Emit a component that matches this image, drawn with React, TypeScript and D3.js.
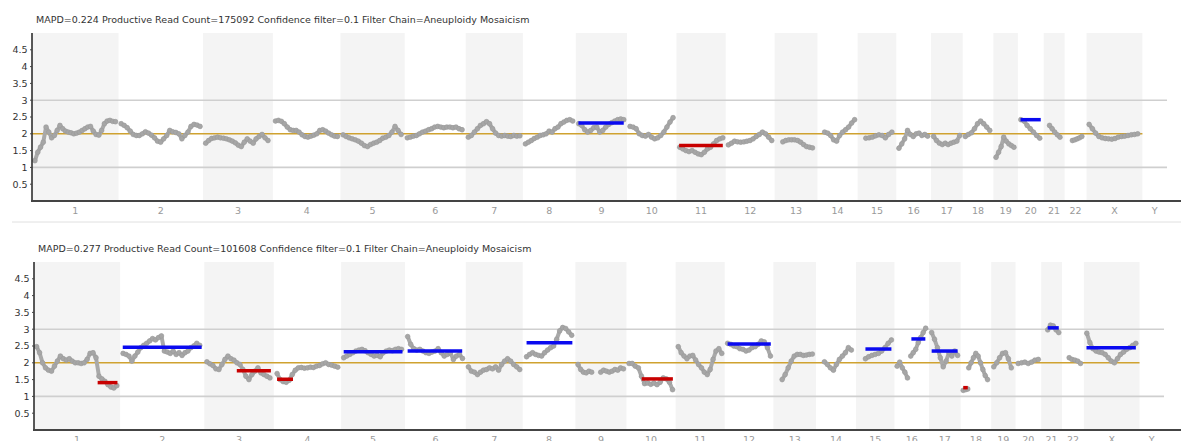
import React from "react";
import * as d3 from "d3";

const CHROMOSOMES = ["1", "2", "3", "4", "5", "6", "7", "8", "9", "10", "11", "12", "13", "14", "15", "16", "17", "18", "19", "20", "21", "22", "X", "Y"];
const CHROMOSOME_LENGTHS_MB = [249.3, 243.2, 198.0, 191.2, 180.9, 171.1, 159.1, 146.4, 141.2, 135.5, 135.0, 133.9, 115.2, 107.3, 102.5, 90.4, 81.2, 78.1, 59.1, 63.0, 48.1, 51.3, 155.3, 59.4];
const CHROMOSOME_PAD_MB = 16;
const Y_TICKS = [0.5, 1, 1.5, 2, 2.5, 3, 3.5, 4, 4.5];
const Y_DOMAIN = [0, 5];
const NORMAL_COPY_NUMBER = 2;
const GUIDE_LINES = [1, 3];

type Segment = [string, number, number, number[]];
type Call = [string, number, number, number, "gain" | "loss"];

const SAMPLE_1_TITLE = "MAPD=0.224 Productive Read Count=175092 Confidence filter=0.1 Filter Chain=Aneuploidy Mosaicism";
const SAMPLE_1_SEGMENTS: Segment[] = [
  ["1", 1, 248, [1.2, 1.45, 1.6, 1.75, 2.2, 2.05, 1.88, 1.95, 2.1, 2.25, 2.15, 2.08, 2.05, 2.03, 2.0, 2.02, 2.05, 2.1, 2.15, 2.2, 2.22, 2.08, 1.98, 1.96, 2.1, 2.3, 2.38, 2.4, 2.37, 2.36]],
  ["2", 0, 242, [2.3, 2.25, 2.18, 2.08, 1.98, 1.95, 1.95, 2.0, 2.06, 2.02, 1.96, 1.88, 1.78, 1.75, 1.85, 1.95, 2.1, 2.06, 2.04, 2.0, 1.85, 1.95, 2.05, 2.22, 2.28, 2.26, 2.22]],
  ["3", 0, 191, [1.72, 1.8, 1.86, 1.88, 1.9, 1.88, 1.87, 1.85, 1.82, 1.78, 1.73, 1.66, 1.62, 1.75, 1.85, 1.78, 1.72, 1.85, 1.92, 1.98, 1.88, 1.8]],
  ["4", 0, 190, [2.38, 2.4, 2.37, 2.3, 2.2, 2.12, 2.1, 2.1, 2.05, 1.97, 1.92, 1.9, 1.93, 1.96, 2.0, 2.1, 2.12, 2.08, 2.02, 1.97, 1.93, 1.92]],
  ["5", 0, 178, [1.97, 1.92, 1.88, 1.85, 1.82, 1.78, 1.72, 1.65, 1.62, 1.68, 1.72, 1.75, 1.8, 1.87, 1.9, 1.95, 2.05, 2.22, 2.1, 1.98]],
  ["6", 0, 168, [1.88, 1.9, 1.93, 1.95, 2.0, 2.05, 2.08, 2.12, 2.15, 2.2, 2.22, 2.2, 2.18, 2.2, 2.2, 2.18, 2.2, 2.15, 2.12]],
  ["7", 0, 158, [1.9, 1.95, 2.05, 2.15, 2.25, 2.3, 2.36, 2.3, 2.15, 2.02, 1.95, 1.93, 1.95, 1.93, 1.92, 1.95, 1.93, 1.94]],
  ["8", 0, 145, [1.7, 1.75, 1.8, 1.86, 1.9, 1.95, 1.97, 2.0, 2.08, 2.05, 2.15, 2.2, 2.3, 2.35, 2.4, 2.42, 2.38]],
  ["9", 1, 139, [2.3, 2.25, 2.12, 2.05, 2.1, 2.18, 2.2, 2.05, 2.1, 2.2, 2.28, 2.33, 2.38, 2.42, 2.44, 2.42]],
  ["10", 1, 133, [2.22, 2.2, 2.15, 2.0, 1.95, 1.93, 1.98, 1.9, 1.85, 1.88, 1.95, 2.05, 2.2, 2.35, 2.48]],
  ["11", 2, 134, [1.6, 1.55, 1.5, 1.47, 1.5, 1.45, 1.4, 1.38, 1.45, 1.55, 1.6, 1.7, 1.8, 1.85, 1.88]],
  ["12", 0, 133, [1.67, 1.72, 1.78, 1.76, 1.75, 1.76, 1.78, 1.8, 1.85, 1.92, 1.98, 2.05, 2.0, 1.9, 1.8]],
  ["13", 17, 108, [1.76, 1.8, 1.82, 1.82, 1.82, 1.8, 1.75, 1.68, 1.62, 1.6, 1.58]],
  ["14", 14, 106, [2.05, 2.02, 1.95, 1.82, 1.78, 1.95, 2.05, 2.12, 2.2, 2.32, 2.42]],
  ["15", 17, 97, [1.87, 1.88, 1.9, 1.94, 1.97, 1.95, 1.88, 1.98, 2.05]],
  ["16", 0, 88, [1.57, 1.7, 1.85, 2.1, 1.98, 1.92, 2.0, 2.02, 1.95, 1.98, 1.93]],
  ["17", 0, 80, [1.92, 1.8, 1.72, 1.68, 1.72, 1.68, 1.72, 1.75, 1.78, 1.95]],
  ["18", 0, 75, [1.92, 1.98, 2.03, 2.15, 2.3, 2.38, 2.3, 2.2, 2.1]],
  ["19", 0, 55, [1.3, 1.45, 1.62, 1.9, 1.78, 1.7, 1.65, 1.6]],
  ["20", 1, 59, [2.42, 2.38, 2.25, 2.15, 2.05, 1.95, 1.87]],
  ["21", 10, 42, [2.25, 2.15, 2.05, 1.97, 1.9]],
  ["22", 16, 45, [1.8, 1.82, 1.85, 1.88, 1.92]],
  ["X", 0, 149, [2.28, 2.15, 2.02, 1.92, 1.88, 1.86, 1.85, 1.84, 1.86, 1.9, 1.92, 1.93, 1.95, 1.97, 1.98, 2.0]],
];
const SAMPLE_1_CALLS: Call[] = [
  ["9", 0, 139, 2.32, "gain"],
  ["11", 0, 134, 1.65, "loss"],
  ["20", 0, 62, 2.42, "gain"],
];

const SAMPLE_2_TITLE = "MAPD=0.277 Productive Read Count=101608 Confidence filter=0.1 Filter Chain=Aneuploidy Mosaicism";
const SAMPLE_2_SEGMENTS: Segment[] = [
  ["1", 0, 247, [2.48, 2.3, 2.0, 1.85, 1.78, 1.75, 1.9, 2.05, 2.2, 2.12, 2.08, 2.12, 2.05, 2.0, 2.0, 1.98, 2.0, 2.1, 2.28, 2.3, 2.15, 1.6, 1.52, 1.45, 1.35, 1.28, 1.25, 1.32]],
  ["2", 1, 237, [2.28, 2.25, 2.2, 2.05, 2.2, 2.32, 2.45, 2.52, 2.58, 2.65, 2.72, 2.68, 2.75, 2.8, 2.35, 2.32, 2.28, 2.35, 2.25, 2.3, 2.22, 2.3, 2.35, 2.45, 2.5, 2.58, 2.52]],
  ["3", 0, 194, [2.03, 1.97, 1.92, 1.82, 1.8, 1.95, 2.1, 2.2, 2.12, 2.08, 2.0, 1.95, 1.8, 1.6, 1.5, 1.65, 1.75, 1.85, 1.7, 1.65, 1.6, 1.55]],
  ["4", 2, 189, [1.68, 1.5, 1.44, 1.42, 1.48, 1.65, 1.78, 1.85, 1.86, 1.84, 1.85, 1.87, 1.86, 1.9, 1.92, 1.97, 2.0, 1.95, 1.93, 1.9, 1.87]],
  ["5", 0, 178, [2.15, 2.2, 2.25, 2.3, 2.35, 2.38, 2.4, 2.36, 2.3, 2.25, 2.2, 2.22, 2.18, 2.3, 2.35, 2.38, 2.36, 2.4, 2.42, 2.4]],
  ["6", 0, 169, [2.78, 2.55, 2.42, 2.38, 2.4, 2.35, 2.3, 2.28, 2.32, 2.35, 2.42, 2.3, 2.2, 2.25, 2.3, 2.1, 2.2, 2.25, 2.13]],
  ["7", 0, 158, [1.88, 1.75, 1.72, 1.65, 1.72, 1.78, 1.8, 1.85, 1.82, 1.88, 1.78, 1.95, 2.05, 2.12, 2.05, 1.95, 1.88, 1.8]],
  ["8", 4, 143, [2.18, 2.25, 2.3, 2.25, 2.22, 2.2, 2.3, 2.38, 2.45, 2.5, 2.7, 2.95, 3.05, 3.02, 2.92, 2.82]],
  ["9", 0, 42, [1.95, 1.8, 1.72, 1.7, 1.75, 1.72]],
  ["9", 70, 140, [1.72, 1.78, 1.75, 1.72, 1.75, 1.8, 1.78, 1.85, 1.82]],
  ["10", 0, 134, [1.98, 1.98, 1.9, 1.85, 1.6, 1.38, 1.4, 1.36, 1.4, 1.35, 1.42, 1.55, 1.52, 1.42, 1.2]],
  ["11", 0, 134, [2.48, 2.3, 2.2, 2.12, 2.2, 2.22, 2.08, 1.95, 1.85, 1.72, 1.65, 1.8, 2.1, 2.35, 2.42, 2.28]],
  ["12", 1, 133, [2.58, 2.55, 2.5, 2.48, 2.42, 2.4, 2.35, 2.38, 2.45, 2.48, 2.55, 2.65, 2.62, 2.45, 2.2]],
  ["13", 19, 112, [1.5, 1.65, 1.85, 2.05, 2.2, 2.25, 2.25, 2.22, 2.23, 2.25, 2.26]],
  ["14", 18, 101, [2.03, 1.95, 1.85, 1.78, 1.95, 2.1, 2.2, 2.3, 2.45, 2.38]],
  ["15", 21, 101, [2.12, 2.18, 2.22, 2.25, 2.28, 2.35, 2.45, 2.58, 2.68]],
  ["16", 0, 32, [1.9, 2.02, 1.85, 1.72, 1.55]],
  ["16", 42, 88, [2.2, 2.3, 2.4, 2.6, 2.75, 2.9, 3.03]],
  ["17", 0, 80, [2.9, 2.7, 2.45, 2.15, 1.88, 2.05, 2.3, 2.2, 2.35, 2.22]],
  ["18", 0, 14, [1.18, 1.2, 1.22]],
  ["18", 17, 75, [1.85, 2.0, 2.15, 2.28, 2.2, 2.0, 1.8, 1.62, 1.5]],
  ["19", 0, 54, [1.88, 2.0, 2.15, 2.28, 2.3, 2.12, 1.85]],
  ["20", 0, 62, [1.98, 2.0, 2.02, 1.98, 2.02, 2.08, 2.1]],
  ["21", 12, 46, [2.98, 3.12, 3.1, 2.98, 2.9]],
  ["22", 14, 49, [2.15, 2.1, 2.08, 2.05, 1.98]],
  ["X", 1, 152, [2.88, 2.6, 2.42, 2.35, 2.32, 2.3, 2.25, 2.15, 2.05, 2.0, 2.12, 2.25, 2.32, 2.4, 2.45, 2.52, 2.58]],
];
const SAMPLE_2_CALLS: Call[] = [
  ["1", 188, 249, 1.41, "loss"],
  ["2", 0, 243, 2.46, "gain"],
  ["3", 92, 197, 1.76, "loss"],
  ["4", 2, 51, 1.51, "loss"],
  ["5", 0, 181, 2.33, "gain"],
  ["6", 0, 168, 2.35, "gain"],
  ["8", 4, 145, 2.6, "gain"],
  ["10", 39, 135, 1.52, "loss"],
  ["12", 1, 134, 2.56, "gain"],
  ["15", 21, 101, 2.41, "gain"],
  ["16", 44, 87, 2.71, "gain"],
  ["17", 0, 80, 2.35, "gain"],
  ["18", 0, 14, 1.26, "loss"],
  ["21", 12, 46, 3.04, "gain"],
  ["X", 0, 152, 2.45, "gain"],
];

const WIDTH = 1181;
const HEIGHT = 441;
const FONT = "'DejaVu Sans', Verdana, sans-serif";

interface PanelProps {
  title: string;
  segments: Segment[];
  calls: Call[];
  left: number;
  right: number;
  top: number;
  bottom: number;
  titleX: number;
  titleY: number;
}

function Panel({ title, segments, calls, left, right, top, bottom, titleX, titleY }: PanelProps) {
  const spans = CHROMOSOME_LENGTHS_MB.map((l) => l + CHROMOSOME_PAD_MB);
  const starts = spans.map((_, i) => d3.sum(spans.slice(0, i)));
  const total = d3.sum(spans);
  const x = d3.scaleLinear().domain([0, total]).range([left, right]);
  const y = d3.scaleLinear().domain(Y_DOMAIN).range([bottom, top]);
  const idx = (c: string) => CHROMOSOMES.indexOf(c);
  const gx = (c: string, mb: number) => x(starts[idx(c)] + CHROMOSOME_PAD_MB / 2 + mb);
  const line = d3.line<[number, number]>().x((d) => d[0]).y((d) => d[1]);
  const xEnd = x(starts[idx("X")] + spans[idx("X")]);

  return (
    <g>
      <text x={titleX} y={titleY} fontSize={9.5} fill="#333" fontFamily={FONT}>{title}</text>
      {CHROMOSOMES.map((c, i) =>
        i % 2 === 0 ? (
          <rect key={"b" + c} x={x(starts[i])} y={top} width={x(starts[i] + spans[i]) - x(starts[i])} height={bottom - top} fill="#f4f4f4" />
        ) : null
      )}
      {GUIDE_LINES.map((g) => (
        <line key={"g" + g} x1={left} x2={right} y1={y(g)} y2={y(g)} stroke="#cfcfcf" strokeWidth={1.6} />
      ))}
      <line x1={left} x2={xEnd} y1={y(NORMAL_COPY_NUMBER)} y2={y(NORMAL_COPY_NUMBER)} stroke="#cfa230" strokeWidth={1.5} />
      {segments.map(([c, s, e, vals], k) => {
        const pts: [number, number][] = vals.map((v, i) => [gx(c, s + ((e - s) * i) / (vals.length - 1)), y(v)]);
        return (
          <g key={"s" + k}>
            <path d={line(pts) || ""} fill="none" stroke="#a9a9a9" strokeWidth={4} strokeLinecap="round" strokeLinejoin="round" />
            {pts.map((p, i) => (
              <circle key={i} cx={p[0]} cy={p[1]} r={2.4} fill="#a6a6a6" stroke="#9a9a9a" strokeWidth={0.6} />
            ))}
          </g>
        );
      })}
      {calls.map(([c, s, e, v, type], k) => (
        <line key={"c" + k} x1={gx(c, s)} x2={gx(c, e)} y1={y(v)} y2={y(v)} stroke={type === "gain" ? "#0a0af0" : "#c80000"} strokeWidth={3.5} />
      ))}
      <line x1={left} x2={left} y1={top} y2={bottom} stroke="#222" strokeWidth={1.5} />
      {Y_TICKS.map((t) => (
        <g key={"t" + t}>
          <line x1={left - 2} x2={left} y1={y(t)} y2={y(t)} stroke="#444" strokeWidth={1} />
          <text x={left - 4.5} y={y(t)} dy="0.35em" textAnchor="end" fontSize={9.5} fill="#333" fontFamily={FONT}>{t}</text>
        </g>
      ))}
      <line x1={left - 1} x2={WIDTH} y1={bottom} y2={bottom} stroke="#444" strokeWidth={2} />
      {CHROMOSOMES.map((c, i) => (
        <text key={"x" + c} x={x(starts[i] + spans[i] / 2)} y={bottom + 13} textAnchor="middle" fontSize={9.5} fill="#999" fontFamily={FONT}>{c}</text>
      ))}
    </g>
  );
}

export default function App() {
  return (
    <svg width={WIDTH} height={HEIGHT} style={{ position: "absolute", left: 0, top: 0, background: "#fff" }}>
      <rect x={0} y={0} width={WIDTH} height={HEIGHT} fill="#fff" />
      <Panel title={SAMPLE_1_TITLE} segments={SAMPLE_1_SEGMENTS} calls={SAMPLE_1_CALLS} left={32} right={1167} top={33} bottom={201} titleX={36} titleY={23} />
      <line x1={12} x2={WIDTH} y1={222} y2={222} stroke="#e0e0e0" strokeWidth={1} />
      <Panel title={SAMPLE_2_TITLE} segments={SAMPLE_2_SEGMENTS} calls={SAMPLE_2_CALLS} left={34} right={1164} top={262} bottom={430} titleX={38} titleY={252} />
    </svg>
  );
}
